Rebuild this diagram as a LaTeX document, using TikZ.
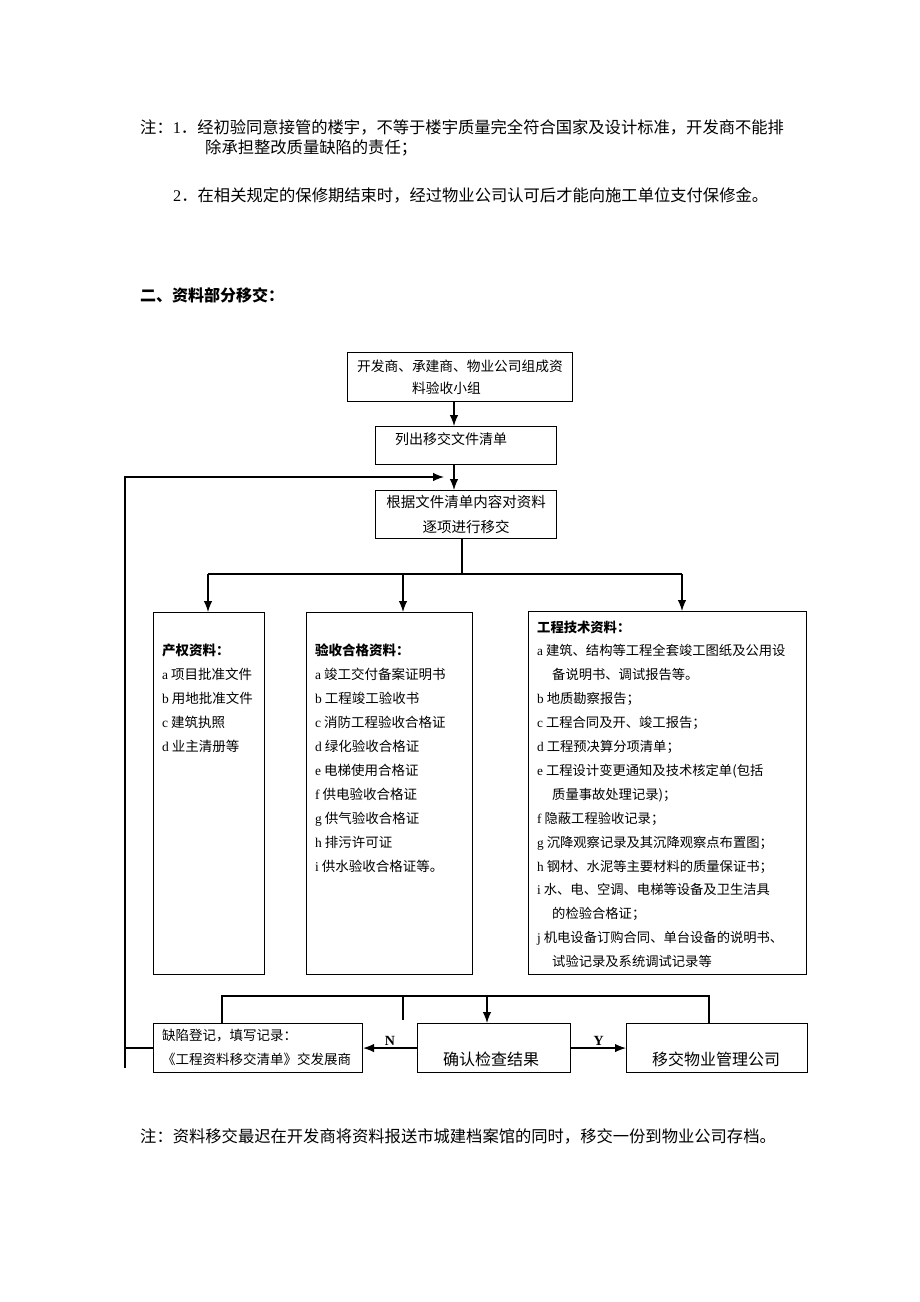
\documentclass[tikz,border=0pt]{standalone}
\usepackage{fontspec}
\setmainfont{Noto Sans CJK SC}
\newfontfamily\latin{Liberation Serif}
\usetikzlibrary{arrows.meta}

\tikzset{
  stepbox/.style={draw, line width=1.1pt, inner sep=0pt, anchor=north west},
  notetext/.style={anchor=west, inner sep=0pt, font=\fontsize{16.3}{16}\selectfont},
  boxtext/.style={anchor=west, inner sep=0pt, font=\fontsize{14}{14}\selectfont},
  itemlist/.style={anchor=north west, inner sep=0pt, align=left, font=\fontsize{13.5}{24}\selectfont},
  yesno/.style={above, inner sep=1.5pt, font=\latin\bfseries\fontsize{14}{14}\selectfont},
  link/.style={line width=1.2pt},
  linkarrow/.style={line width=1.2pt, -{Latex[length=11pt,width=8.5pt]}},
}

\begin{document}
\begin{tikzpicture}[x=1pt, y=-1pt]
  \useasboundingbox (0,0) rectangle (920,1302);

  % notes above the chart
  \node[notetext] (noteA) at (140,127) {注：{\latin 1}．经初验同意接管的楼宇，不等于楼宇质量完全符合国家及设计标准，开发商不能排};
  \node[notetext] (noteB) at (205,148) {除承担整改质量缺陷的责任；};
  \node[notetext] (noteC) at (173,195) {{\latin 2}．在相关规定的保修期结束时，经过物业公司认可后才能向施工单位支付保修金。};
  \node[notetext, font=\bfseries\fontsize{16}{16}\selectfont] (heading) at (140,295) {二、资料部分移交：};

  % boxes
  \node[stepbox, minimum width=225, minimum height=49] (team) at (347,352) {};
  \node[stepbox, minimum width=181, minimum height=38] (list) at (375,426) {};
  \node[stepbox, minimum width=181, minimum height=48] (sort) at (375,490) {};
  \node[stepbox, minimum width=111, minimum height=362] (ownership) at (153,612) {};
  \node[stepbox, minimum width=166, minimum height=362] (acceptance) at (306,612) {};
  \node[stepbox, minimum width=278, minimum height=363] (technical) at (528,611) {};
  \node[stepbox, minimum width=209, minimum height=49] (defect) at (153,1023) {};
  \node[stepbox, minimum width=153, minimum height=49] (confirm) at (417,1023) {};
  \node[stepbox, minimum width=181, minimum height=49] (handover) at (626,1023) {};

  % box texts
  \node[itemlist, font=\fontsize{13.7}{22}\selectfont] (teamTxt) at (357,359.5)
    {开发商、承建商、物业公司组成资\\\hspace*{55pt}料验收小组};
  \node[boxtext] (listTxt) at (395,439) {列出移交文件清单};
  \node[boxtext, anchor=center, align=center, font=\fontsize{14.5}{25}\selectfont] (sortTxt) at (466,514.5)
    {根据文件清单内容对资料\\逐项进行移交};
  \node[itemlist] (ownershipTxt) at (162,643.5) {\textbf{产权资料：}\\
    {\latin a} 项目批准文件\\
    {\latin b} 用地批准文件\\
    {\latin c} 建筑执照\\
    {\latin d} 业主清册等};
  \node[itemlist] (acceptanceTxt) at (315,643.5) {\textbf{验收合格资料：}\\
    {\latin a} 竣工交付备案证明书\\
    {\latin b} 工程竣工验收书\\
    {\latin c} 消防工程验收合格证\\
    {\latin d} 绿化验收合格证\\
    {\latin e} 电梯使用合格证\\
    {\latin f} 供电验收合格证\\
    {\latin g} 供气验收合格证\\
    {\latin h} 排污许可证\\
    {\latin i} 供水验收合格证等。};
  \node[itemlist, font=\fontsize{13.3}{23.9}\selectfont] (technicalTxt) at (537,620.5) {\textbf{工程技术资料：}\\
    {\latin a} 建筑、结构等工程全套竣工图纸及公用设\\
    \hspace*{15pt}备说明书、调试报告等。\\
    {\latin b} 地质勘察报告；\\
    {\latin c} 工程合同及开、竣工报告；\\
    {\latin d} 工程预决算分项清单；\\
    {\latin e} 工程设计变更通知及技术核定单(包括\\
    \hspace*{15pt}质量事故处理记录)；\\
    {\latin f} 隐蔽工程验收记录；\\
    {\latin g} 沉降观察记录及其沉降观察点布置图；\\
    {\latin h} 钢材、水泥等主要材料的质量保证书；\\
    {\latin i} 水、电、空调、电梯等设备及卫生洁具\\
    \hspace*{15pt}的检验合格证；\\
    {\latin j} 机电设备订购合同、单台设备的说明书、\\
    \hspace*{15pt}试验记录及系统调试记录等};
  \node[itemlist] (defectTxt) at (162,1029) {缺陷登记，填写记录：\\《工程资料移交清单》交发展商};
  \node[notetext, font=\fontsize{16}{16}\selectfont] (confirmTxt) at (443,1059) {确认检查结果};
  \node[notetext, font=\fontsize{16}{16}\selectfont] (handoverTxt) at (652,1059) {移交物业管理公司};

  % turning points
  \coordinate (ax) at (454,0);
  \coordinate (fbbot) at (125,1068);
  \coordinate (fbtip) at (444,477);
  \coordinate (split) at (462,574);
  \coordinate (bl) at (208,574);
  \coordinate (bm) at (403,574);
  \coordinate (br) at (682,574);
  \coordinate (cl) at (222,996);
  \coordinate (cm) at (403,996);
  \coordinate (cmend) at (403,1020);
  \coordinate (cc) at (487,996);
  \coordinate (cr) at (709,996);

  % connectors
  \draw[linkarrow] (team.south -| ax) -- (list.north -| ax);
  \draw[linkarrow] (list.south -| ax) -- (sort.north -| ax);
  \draw[link] (sort.south -| split) -- (split);
  \draw[link] (bl) -- (br);
  \draw[linkarrow] (bl) -- (bl |- ownership.north);
  \draw[linkarrow] (bm) -- (bm |- acceptance.north);
  \draw[linkarrow] (br) -- (br |- technical.north);

  \draw[link] (defect.north -| cl) -- (cl) -- (cr) -- (cr |- handover.north);
  \draw[link] (cm) -- (cmend);
  \draw[linkarrow] (cc) -- (cc |- confirm.north);
  \draw[linkarrow] (confirm.west) -- node[yesno] {N} (defect.east);
  \draw[linkarrow] (confirm.east) -- node[yesno] {Y} (handover.west);

  \draw[link] (defect.west) -- (fbbot |- defect.west);
  \draw[linkarrow] (fbbot) |- (fbtip);

  % note below the chart
  \node[notetext] (noteD) at (140,1136) {注：资料移交最迟在开发商将资料报送市城建档案馆的同时，移交一份到物业公司存档。};
\end{tikzpicture}
\end{document}
